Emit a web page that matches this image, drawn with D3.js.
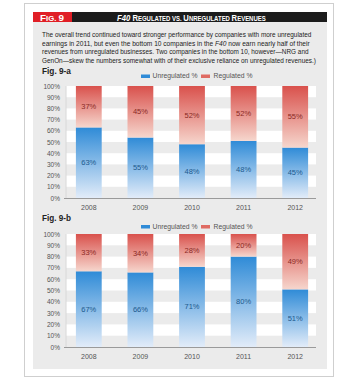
<!DOCTYPE html>
<meta charset="utf-8">
<style>
  body { margin: 0; background: #fff; }
  text { font-family: 'Liberation Sans Narrow', 'Liberation Sans', Arial, sans-serif; }
</style>
<svg width="342" height="380"></svg>
<script src="https://d3js.org/d3.v7.min.js"></script>
<script>
var years = ["2008", "2009", "2010", "2011", "2012"];
var unregA = [63, 54, 48, 51, 45];
var regA = [37, 46, 52, 49, 55];
var unregALabels = ["63%", "55%", "48%", "48%", "45%"];
var regALabels = ["37%", "45%", "52%", "52%", "55%"];
var unregB = [67, 66, 71, 80, 51];
var regB = [33, 34, 29, 20, 49];
var unregBLabels = ["67%", "66%", "71%", "80%", "51%"];
var regBLabels = ["33%", "34%", "28%", "20%", "49%"];
var yTicks = [0, 10, 20, 30, 40, 50, 60, 70, 80, 90, 100];
var intro = [
  "The overall trend continued toward stronger performance by companies with more unregulated",
  "earnings in 2011, but even the bottom 10 companies in the |F40| now earn nearly half of their",
  "revenues from unregulated businesses. Two companies in the bottom 10, however\u2014NRG and",
  "GenOn\u2014skew the numbers somewhat with of their exclusive reliance on unregulated revenues.)"
];

var svg = d3.select("svg");

// squeeze a text horizontally so it spans the given width
function squeeze(t, x, y, w) {
  var n = t.node().getComputedTextLength();
  t.attr("x", 0).attr("y", 0)
    .attr("transform", "translate(" + x + "," + y + ") scale(" + (w / n) + ",1)");
}

// card + panel
svg.append("rect").attr("x", 24.5).attr("y", 3.5).attr("width", 309).attr("height", 373)
  .attr("fill", "#fff").attr("stroke", "#cfcfcf");
svg.append("rect").attr("x", 33).attr("y", 12).attr("width", 294).attr("height", 357)
  .attr("fill", "#ebebeb");

// header bar
svg.append("rect").attr("x", 33).attr("y", 12).attr("width", 294).attr("height", 10).attr("fill", "#1c1c1c");
svg.append("rect").attr("x", 33).attr("y", 12).attr("width", 39).attr("height", 10).attr("fill", "#e01f26");

var fig = svg.append("text").attr("fill", "#fff")
  .attr("font-weight", "bold").attr("font-size", 9);
fig.append("tspan").text("F");
fig.append("tspan").attr("font-size", 7).text("IG. ");
fig.append("tspan").text("9");
squeeze(fig, 40, 20.5, 24);

var title = svg.append("text").attr("fill", "#fff")
  .attr("font-weight", "bold").attr("font-size", 9);
title.append("tspan").attr("font-style", "italic").text("F40 ");
[["R", "EGULATED "], ["", "VS. "], ["U", "NREGULATED "], ["R", "EVENUES"]].forEach(function(p) {
  title.append("tspan").text(p[0]);
  title.append("tspan").attr("font-size", 7).text(p[1]);
});
squeeze(title, 117, 20.5, 149);

// intro paragraph
var lens = [270, 268, 267, 274];
intro.forEach(function(line, i) {
  var t = svg.append("text").attr("font-size", 8).attr("fill", "#222");
  line.split("|").forEach(function(s, j) {
    t.append("tspan").attr("font-style", j % 2 ? "italic" : null).text(s);
  });
  squeeze(t, 42, 37 + i * 8.6, lens[i]);
});

// gradients
var defs = svg.append("defs");
function grad(id, top, bottom) {
  var g = defs.append("linearGradient").attr("id", id).attr("x1", 0).attr("y1", 0).attr("x2", 0).attr("y2", 1);
  g.append("stop").attr("offset", "0%").attr("stop-color", top);
  g.append("stop").attr("offset", "100%").attr("stop-color", bottom);
}
grad("gBlue", "#2f8bd7", "#e2ecf9");
grad("gRed", "#d9514c", "#f6d6cd");

var x = d3.scaleBand().domain(years).range([63, 321]).paddingInner(0.5).paddingOuter(0.25);

function chart(top, bottom, titleText, titleY, legendY, unreg, reg, unregLabels, regLabels) {
  var y = d3.scaleLinear().domain([0, 100]).range([bottom, top]);
  var g = svg.append("g");

  // alternating bands
  for (var v = 100; v > 0; v -= 20) {
    g.append("rect").attr("x", 66).attr("width", 250)
      .attr("y", y(v)).attr("height", y(v - 10) - y(v)).attr("fill", "#fff");
  }

  var ft = g.append("text").attr("font-size", 9.5)
    .attr("font-weight", "bold").attr("fill", "#222").text(titleText);
  squeeze(ft, 42, titleY, 29);

  // legend
  g.append("rect").attr("x", 141).attr("y", legendY - 3.5).attr("width", 9).attr("height", 3.5).attr("fill", "#2f8bd7");
  g.append("text").attr("x", 152.5).attr("y", legendY).attr("font-size", 6.8).attr("fill", "#555").text("Unregulated %");
  g.append("rect").attr("x", 201).attr("y", legendY - 3.5).attr("width", 9).attr("height", 3.5).attr("fill", "#df6b63");
  g.append("text").attr("x", 213.5).attr("y", legendY).attr("font-size", 6.8).attr("fill", "#555").text("Regulated %");

  // y axis
  var ya = g.append("g").attr("transform", "translate(60,0)")
    .call(d3.axisLeft(y).tickValues(yTicks).tickSize(0).tickPadding(0).tickFormat(function(d) { return d + "%"; }));
  ya.select(".domain").remove();
  ya.selectAll("text").attr("font-size", 6.5).attr("fill", "#555")
    .attr("font-family", "'Liberation Sans Narrow', 'Liberation Sans', Arial, sans-serif");

  g.append("line").attr("x1", 66).attr("x2", 66).attr("y1", top).attr("y2", bottom).attr("stroke", "#d8d8d8");

  // bars
  g.selectAll(".u").data(years).join("rect")
    .attr("x", function(d) { return x(d); }).attr("width", x.bandwidth())
    .attr("y", function(d, i) { return y(unreg[i]); })
    .attr("height", function(d, i) { return y(0) - y(unreg[i]); })
    .attr("fill", "url(#gBlue)");
  g.selectAll(".r").data(years).join("rect")
    .attr("x", function(d) { return x(d); }).attr("width", x.bandwidth())
    .attr("y", function(d, i) { return y(unreg[i] + reg[i]); })
    .attr("height", function(d, i) { return y(unreg[i]) - y(unreg[i] + reg[i]); })
    .attr("fill", "url(#gRed)");

  // value labels
  years.forEach(function(d, i) {
    var cx = x(d) + x.bandwidth() / 2;
    g.append("text").attr("x", cx).attr("y", y(unreg[i] / 2) + 2.5).attr("text-anchor", "middle")
      .attr("font-size", 7.5).attr("fill", "#1d5a8e").text(unregLabels[i]);
    g.append("text").attr("x", cx).attr("y", y(unreg[i] + reg[i] / 2) + 2.5).attr("text-anchor", "middle")
      .attr("font-size", 7.5).attr("fill", "#8a2a25").text(regLabels[i]);
  });

  // x axis
  g.append("line").attr("x1", 64).attr("x2", 316).attr("y1", bottom + 0.5).attr("y2", bottom + 0.5).attr("stroke", "#9a9a9a");
  var xa = g.append("g").attr("transform", "translate(0," + bottom + ")")
    .call(d3.axisBottom(x).tickSize(0).tickPadding(7));
  xa.select(".domain").remove();
  xa.selectAll("text").attr("font-size", 7).attr("fill", "#555")
    .attr("font-family", "'Liberation Sans Narrow', 'Liberation Sans', Arial, sans-serif");
}

chart(86, 198, "Fig. 9-a", 73.5, 78, unregA, regA, unregALabels, regALabels);
chart(234, 347, "Fig. 9-b", 221, 228.5, unregB, regB, unregBLabels, regBLabels);
</script>
